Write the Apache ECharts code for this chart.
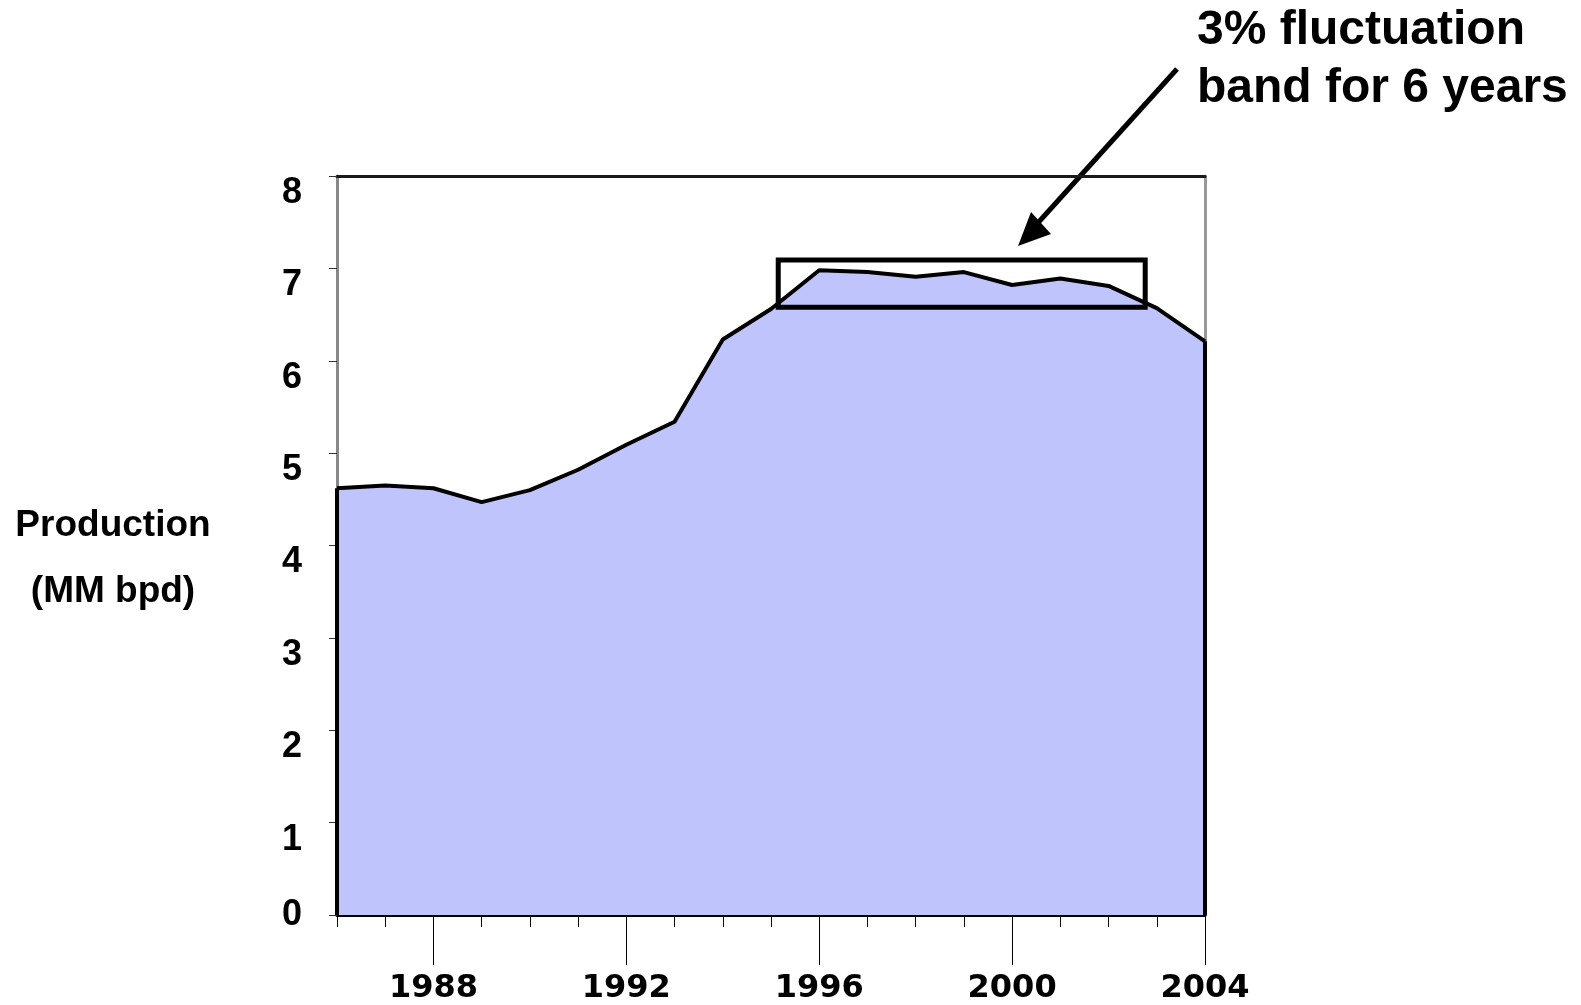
<!DOCTYPE html>
<html><head><meta charset="utf-8">
<script src="https://cdn.jsdelivr.net/npm/echarts@6/dist/echarts.min.js"></script>
<style>html,body{margin:0;padding:0;background:#fff}#c{width:1581px;height:1005px}</style>
</head><body><div id="c"></div>
<script>
const years = [1986,1987,1988,1989,1990,1991,1992,1993,1994,1995,1996,1997,1998,1999,2000,2001,2002,2003,2004];
const production = [4.62,4.65,4.62,4.47,4.60,4.82,5.09,5.34,6.23,6.56,6.98,6.96,6.91,6.96,6.82,6.89,6.81,6.57,6.21];
const yTickValues = [1,2,3,4,5,6,7,8];
const yZeroValue = [0];
const xLabelYears = [1988,1992,1996,2000,2004];
const bandYears = [1995.15, 2002.76];
const bandRange = [6.58, 7.09];
const annotationLines = ['3% fluctuation', 'band for 6 years'];
const yTitleLines = ['Production', '(MM bpd)'];

const chart = echarts.init(document.getElementById('c'));
const first = years[0], last = years[years.length-1];
const seriesData = years.map((y,i)=>[y, production[i]]);
const xFont = {fontFamily:'DejaVu Sans', fontWeight:'bold', fontSize:32, color:'#000'};
const yFont = {fontFamily:'Liberation Sans', fontWeight:'bold', fontSize:36, color:'#000'};

const option = {
  animation:false,
  grid:{left:337, right:376, top:176, bottom:86, show:false},
  xAxis:[
    {type:'value', min:first, max:last, interval:1, position:'bottom',
     axisLine:{show:true, onZero:false, lineStyle:{color:'#000', width:3}},
     axisTick:{show:true, length:12, customValues:years, lineStyle:{color:'#000', width:1}},
     axisLabel:{show:false}, splitLine:{show:false}},
    {type:'value', min:first, max:last, interval:1, position:'bottom',
     axisLine:{show:false, onZero:false},
     axisTick:{show:true, length:50, customValues:xLabelYears, lineStyle:{color:'#000', width:1}},
     axisLabel:Object.assign({show:true, margin:58, customValues:xLabelYears, formatter:v=>String(v)}, xFont),
     splitLine:{show:false}},
    {type:'value', min:first, max:last, position:'top',
     axisLine:{show:true, onZero:false, lineStyle:{color:'#1a1a1a', width:3}},
     axisTick:{show:false}, axisLabel:{show:false}, splitLine:{show:false}}
  ],
  yAxis:[
    {type:'value', min:0, max:8, interval:1,
     axisLine:{show:true, onZero:false, lineStyle:{color:'#888', width:3}},
     axisTick:{show:true, length:8, lineStyle:{color:'#333', width:1}},
     axisLabel:Object.assign({margin:35, verticalAlign:'top', lineHeight:34, customValues:yTickValues}, yFont),
     splitLine:{show:false}},
    {type:'value', min:0, max:8, interval:1, position:'left',
     axisLine:{show:false, onZero:false}, axisTick:{show:false},
     axisLabel:Object.assign({margin:35, verticalAlign:'middle', customValues:yZeroValue}, yFont),
     splitLine:{show:false}},
    {type:'value', min:0, max:8, position:'right',
     axisLine:{show:true, onZero:false, lineStyle:{color:'#999', width:3}},
     axisTick:{show:false}, axisLabel:{show:false}, splitLine:{show:false}}
  ],
  series:[{
    type:'line', data:seriesData, symbol:'none', clip:false, z:2,
    lineStyle:{color:'#000', width:4},
    areaStyle:{color:'#BFC4FC', opacity:1},
    markLine:{silent:true, symbol:'none', label:{show:false},
      lineStyle:{color:'#000', width:4, type:'solid'},
      data:[
        [{coord:[first,0]},{coord:[first,production[0]]}],
        [{coord:[last,0]},{coord:[last,production[production.length-1]]}]
      ]}
  },{
    type:'custom', z:10, clip:false,
    encode:{x:[0,2], y:[1,3]},
    data:[[bandYears[0], bandRange[1], bandYears[1], bandRange[0]]],
    renderItem:function(params, api){
      const p1 = api.coord([api.value(0), api.value(1)]);
      const p2 = api.coord([api.value(2), api.value(3)]);
      return {type:'rect', shape:{x:p1[0], y:p1[1], width:p2[0]-p1[0], height:p2[1]-p1[1]},
        style:{fill:null, stroke:'#000', lineWidth:5}};
    }
  }],
  graphic:[
    {type:'text', left:1197, top:7, style:{text:annotationLines[0], font:'bold 48px "Liberation Sans"', fill:'#000'}},
    {type:'text', left:1197, top:65, style:{text:annotationLines[1], font:'bold 48px "Liberation Sans"', fill:'#000'}},
    {type:'line', shape:{x1:1177,y1:69,x2:1036,y2:225}, style:{stroke:'#000', lineWidth:5}},
    {type:'polygon', shape:{points:[[1018,246],[1051,234],[1031,212]]}, style:{fill:'#000'}},
    {type:'text', x:113, y:526, style:{text:yTitleLines[0], font:'bold 37px "Liberation Sans"', fill:'#000', textAlign:'center', textVerticalAlign:'middle'}},
    {type:'text', x:113, y:592, style:{text:yTitleLines[1], font:'bold 37px "Liberation Sans"', fill:'#000', textAlign:'center', textVerticalAlign:'middle'}}
  ]
};
chart.setOption(option);
</script></body></html>
